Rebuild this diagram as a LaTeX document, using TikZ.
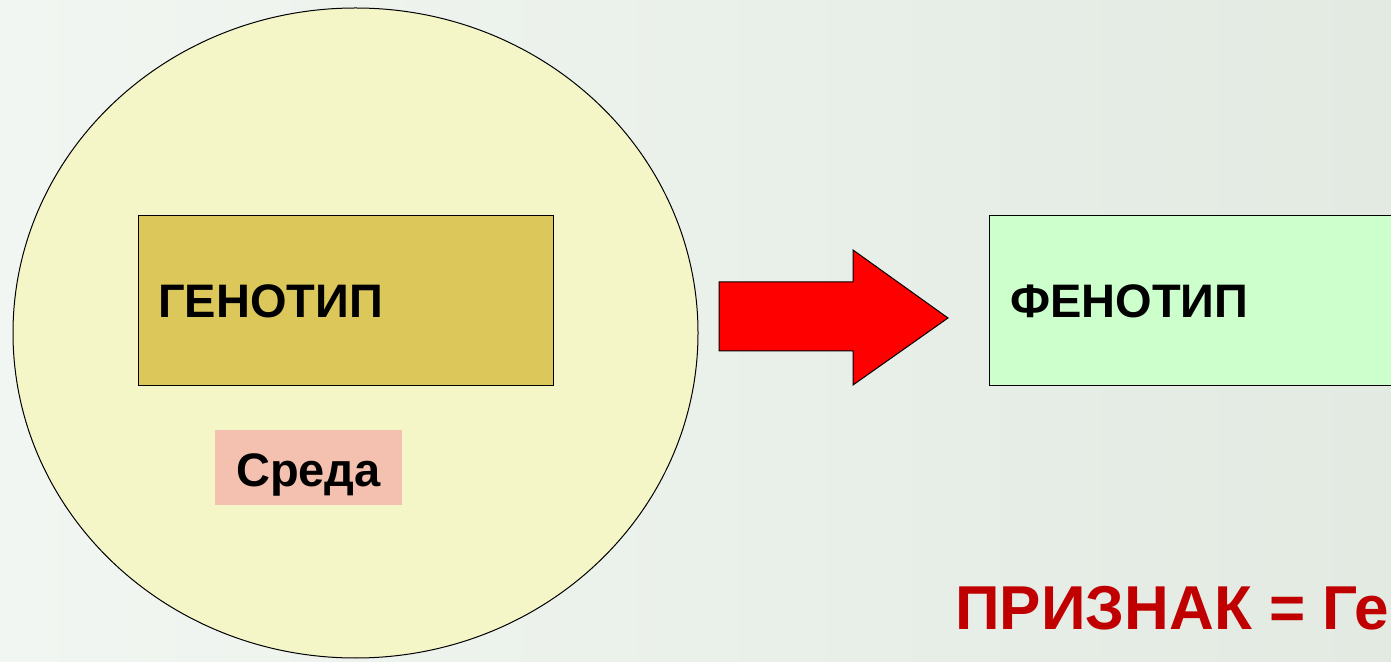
\documentclass[tikz,border=0pt]{standalone}
\usepackage{fontspec}
\setmainfont{Liberation Sans}
\definecolor{bgL}{HTML}{F2F6F2}
\definecolor{bgR}{HTML}{E2EAE2}
\definecolor{ellfill}{HTML}{F4F6C8}
\definecolor{genfill}{HTML}{DCC85A}
\definecolor{sredfill}{HTML}{F4C0B0}
\definecolor{phenfill}{HTML}{CCFFCC}
\definecolor{redtxt}{HTML}{C00000}
\tikzset{
  box/.style={draw=black, line width=1pt},
  lbl/.style={font=\fontsize{47}{50}\selectfont\bfseries, text=black, inner sep=0pt},
}
\begin{document}
\begin{tikzpicture}[x=1pt,y=1pt]
\useasboundingbox (0,0) rectangle (1391,661);
\clip (0,0) rectangle (1391,661);
\shade[left color=bgL, right color=bgR] (0,0) rectangle (1391,661);
% ellipse
\draw[fill=ellfill, line width=1pt] (355.5,328) ellipse [x radius=342.5, y radius=325];
% genotype box
\node[box, fill=genfill, minimum width=415, minimum height=170, anchor=north west, inner sep=0pt] (gen) at (138,446) {};
\node[lbl, anchor=base west] (gentxt) at (158,343) {ГЕНОТИП};
% sreda
\node[fill=sredfill, minimum width=187, minimum height=75, anchor=north west, inner sep=0pt] (sreda) at (215,231) {};
\node[lbl, anchor=base] (sredatxt) at (308.5,174) {Среда};
% arrow
\draw[box, fill=red, line join=miter] (719,379) -- (853,379) -- (853,411) -- (948,343) -- (853,276) -- (853,310) -- (719,310) -- cycle;
% phenotype box
\node[box, fill=phenfill, minimum width=420, minimum height=170, anchor=north west, inner sep=0pt] (phen) at (989,446) {};
\node[lbl, anchor=base west] (phentxt) at (1010,343) {ФЕНОТИП};
% formula
\node[anchor=base west, inner sep=0pt, text=redtxt, font=\fontsize{62}{66}\selectfont\bfseries] (form) at (955,32) {ПРИЗНАК = Ге};
\end{tikzpicture}
\end{document}
